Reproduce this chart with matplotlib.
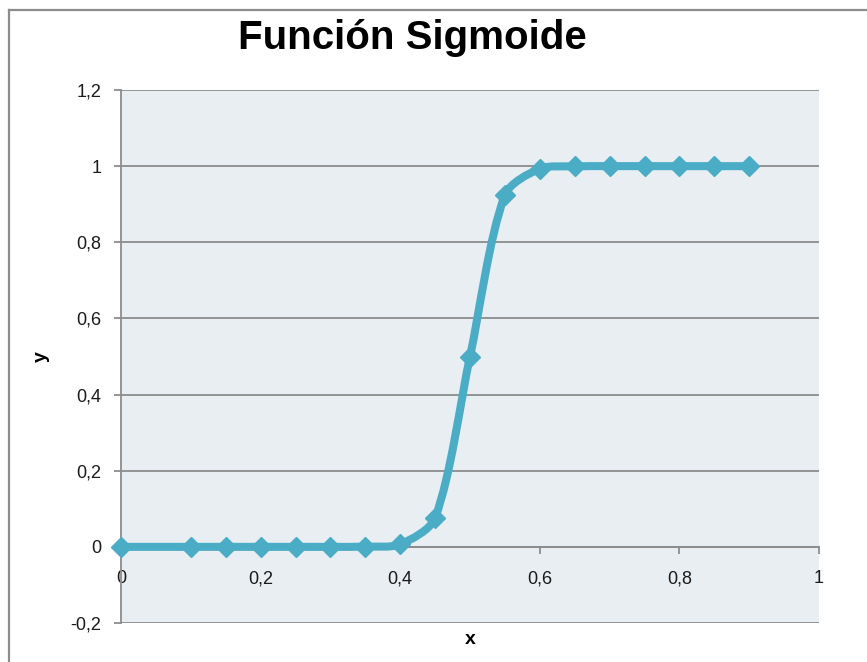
import matplotlib
matplotlib.use("Agg")
import matplotlib.pyplot as plt
import numpy as np
from matplotlib.path import Path
from matplotlib.patches import PathPatch
from matplotlib.lines import Line2D

# ---- data ----
x_vals = [0.0, 0.1, 0.15, 0.2, 0.25, 0.3, 0.35, 0.4, 0.45, 0.5, 0.55, 0.6,
          0.65, 0.7, 0.75, 0.8, 0.85, 0.9]
y_vals = [0.0, 0.0, 0.0, 0.0, 0.0, 0.0, 0.0006, 0.0067, 0.0759, 0.5, 0.9241,
          0.9933, 0.9994, 1.0, 1.0, 1.0, 1.0, 1.0]
x_ticks = [0, 0.2, 0.4, 0.6, 0.8, 1]
x_tick_labels = ["0", "0,2", "0,4", "0,6", "0,8", "1"]
y_ticks = [-0.2, 0, 0.2, 0.4, 0.6, 0.8, 1.0, 1.2]
y_tick_labels = ["-0,2", "0", "0,2", "0,4", "0,6", "0,8", "1", "1,2"]
title = "Función Sigmoide"
x_label = "x"
y_label = "y"

LINE_C = "#4BACC6"
GRID_C = "#8C8C8C"
BG_C = "#E8EEF2"

plt.rcParams['font.family'] = ['Liberation Sans', 'DejaVu Sans']

fig = plt.figure(figsize=(8.67, 6.62), dpi=100)
ax = fig.add_axes([121/867, 39/662, (819-121)/867, (623-90)/662])
ax.set_facecolor(BG_C)
ax.set_xlim(0, 1)
ax.set_ylim(-0.2, 1.2)

ax.set_yticks(y_ticks)
ax.set_yticklabels(y_tick_labels)
ax.yaxis.grid(True, color=GRID_C, linewidth=1.3)
ax.set_axisbelow(True)
ax.set_xticks(x_ticks)
ax.set_xticklabels(x_tick_labels)

for s in ["top", "right"]:
    ax.spines[s].set_visible(False)
ax.spines["left"].set_color(GRID_C)
ax.spines["left"].set_linewidth(1.3)
ax.spines["bottom"].set_position(("data", 0))
ax.spines["bottom"].set_color(GRID_C)
ax.spines["bottom"].set_linewidth(1.3)

ax.tick_params(axis="y", direction="out", length=5, width=1.3, color=GRID_C,
               labelsize=13, pad=9, labelcolor="#1a1a1a")
ax.tick_params(axis="x", direction="out", length=5, width=1.3, color=GRID_C,
               labelsize=13, pad=12, labelcolor="#1a1a1a")

# smoothed curve (Excel-like Bezier smoothing, computed in display-isotropic space)
xs = np.array(x_vals)
ys = np.array(y_vals)
n = len(xs)
sx = 698.0          # px per x unit (for isotropic smoothing)
sy = 533.0 / 1.4    # px per y unit
P = np.column_stack([xs * sx, ys * sy])
tang = []
for i in range(n):
    a = P[max(i - 1, 0)]
    b = P[min(i + 1, n - 1)]
    d = b - a
    nd = np.hypot(*d)
    tang.append(d / nd if nd > 0 else np.zeros(2))
k = 0.28
verts = [tuple(P[0])]
codes = [Path.MOVETO]
for i in range(n - 1):
    p1, p2 = P[i], P[i + 1]
    L = np.hypot(*(p2 - p1))
    c1 = p1 + tang[i] * L * k
    c2 = p2 - tang[i + 1] * L * k
    verts += [tuple(c1), tuple(c2), tuple(p2)]
    codes += [Path.CURVE4] * 3
verts = [(vx / sx, vy / sy) for vx, vy in verts]
patch = PathPatch(Path(verts, codes), facecolor="none", edgecolor=LINE_C,
                  linewidth=5.8, capstyle="round", joinstyle="round", zorder=3)
ax.add_patch(patch)
ax.plot(xs, ys, linestyle="none", marker="D", markersize=10.5,
        color=LINE_C, zorder=4, clip_on=False)

# labels
fig.text(412/867, 1 - 38/662, title, ha="center", va="center",
         fontsize=29, fontweight="bold")
fig.text(41/867, 1 - 357/662, y_label, ha="center", va="center",
         fontsize=14, fontweight="bold", rotation=90)
fig.text(470/867, 1 - 640/662, x_label, ha="center", va="center",
         fontsize=14, fontweight="bold")

# chart border
fig.add_artist(Line2D([9/867, 1.0], [1 - 10/662, 1 - 10/662],
                      transform=fig.transFigure, color="#8C8C8C", lw=1.6))
fig.add_artist(Line2D([9/867, 9/867], [0, 1 - 10/662],
                      transform=fig.transFigure, color="#8C8C8C", lw=1.6))

fig.savefig("out.png", dpi=100)
